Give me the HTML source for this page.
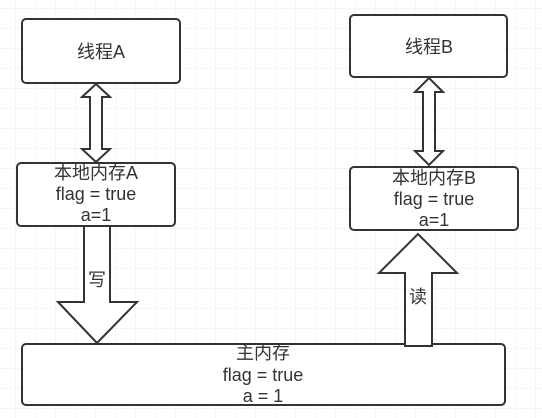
<!DOCTYPE html>
<html><head><meta charset="utf-8"><style>
body{margin:0;background:#fff;}
svg{display:block}
text{font-family:"Liberation Sans","Noto Sans CJK SC",sans-serif;font-size:18px;fill:#333;text-anchor:middle}
</style></head><body>
<svg width="542" height="418" viewBox="0 0 542 418">
<defs>
<pattern id="g" width="20" height="20" patternUnits="userSpaceOnUse" x="15" y="8">
<path d="M0 0H20M0 0V20" stroke="#ebebeb" stroke-width="1" fill="none"/>
</pattern>
</defs>
<rect width="542" height="418" fill="url(#g)"/>
<g stroke="#333" stroke-width="2" fill="#fff" stroke-linejoin="miter">
<rect x="22" y="19" width="158" height="64" rx="4"/>
<rect x="350" y="15" width="157" height="62" rx="4"/>
<path d="M96 84 L110 97 L102 97 L102 149 L110 149 L96 162 L82 149 L90 149 L90 97 L82 97 Z"/>
<path d="M429 78 L443 92 L435 92 L435 151 L443 151 L429 165 L415 151 L423 151 L423 92 L415 92 Z"/>
<rect x="17" y="163" width="158" height="63" rx="4"/>
<rect x="350" y="167" width="168" height="63" rx="4"/>
<rect x="22" y="344" width="483" height="61" rx="4"/>
<path d="M84 226 L110 226 L110 302 L137 302 L97 343 L58 302 L84 302 Z"/>
<path d="M405 346 L432 346 L432 273 L457 273 L418 234 L379 273 L405 273 Z"/>
</g>
<text x="101" y="58">线程A</text>
<text x="429" y="53">线程B</text>
<text x="96" y="179">本地内存A</text>
<text x="96" y="200">flag = true</text>
<text x="96" y="221">a=1</text>
<text x="434" y="184">本地内存B</text>
<text x="434" y="205">flag = true</text>
<text x="434" y="226">a=1</text>
<text x="263" y="359">主内存</text>
<text x="263" y="381">flag = true</text>
<text x="263" y="402">a = 1</text>
<text x="97" y="286">写</text>
<text x="418" y="303">读</text>
</svg>
</body></html>
